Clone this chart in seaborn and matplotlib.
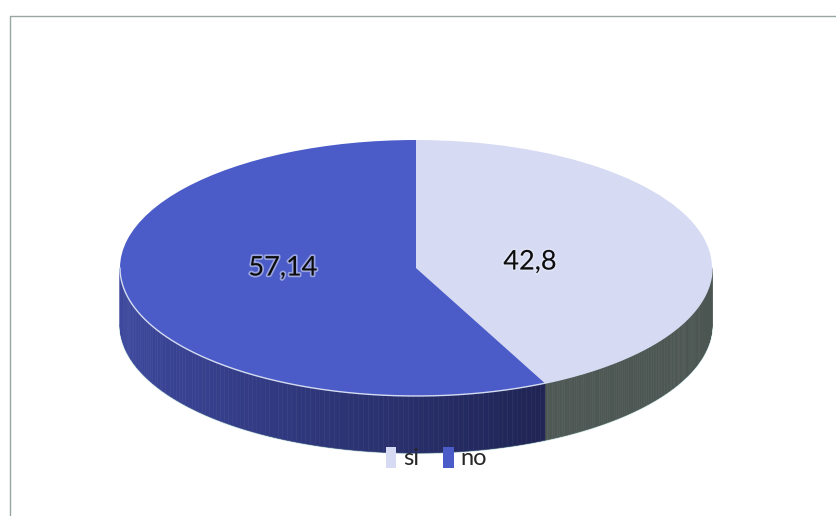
import numpy as np
import matplotlib
matplotlib.use("Agg")
import matplotlib.pyplot as plt
import matplotlib.patheffects as pe
from matplotlib.collections import PolyCollection
from matplotlib.colors import to_rgb
from matplotlib.lines import Line2D
import seaborn as sns

# data
labels = ["si", "no"]
values = [42.8, 57.14]
value_text = ["42,8", "57,14"]

# colours: top face, side (left stop, right stop)
top_colors = ["#d6daf2", "#4b5cc8"]
side_left = ["#56605c", "#3d489e"]
side_right = ["#4b5551", "#15183a"]

sns.set_theme(style="white")
plt.rcParams["font.family"] = ["Lato", "DejaVu Sans"]

W, H = 836, 516
fig = plt.figure(figsize=(W / 100, H / 100), dpi=100)
ax = fig.add_axes([0, 0, 1, 1])

# pie geometry (pixels)
cx, cy = 416, 268
R = 296
k = 128 / 296          # vertical squash of the disc
depth = 57
cyd = (H - cy) / k     # centre in squashed data units

wedges, texts, autotexts = ax.pie(
    values, colors=top_colors, startangle=90, counterclock=False,
    radius=R, center=(cx, cyd), autopct=lambda p: f"{p:.1f}",
    pctdistance=0.42, wedgeprops=dict(edgecolor="none", zorder=3),
    textprops=dict(fontsize=19.5, color="#0c0c0c"))

# label placement nudged to match the original chart
label_px = [(530, 262), (283, 268)]
for t, s, (px, py) in zip(autotexts, value_text, label_px):
    t.set_text(s)
    t.set_position((px, (H - py) / k))
    t.set_zorder(6)
    t.set_path_effects([pe.withStroke(linewidth=2.5, foreground="#e8ecf8", alpha=0.5)])

# side walls of the visible front half
for w, cl, cr in zip(wedges, side_left, side_right):
    t1, t2 = w.theta1, w.theta2
    polys, cols = [], []
    for lo, hi in [(-540, -360), (-180, 0), (180, 360)]:
        a, b = max(t1, lo), min(t2, hi)
        if b <= a:
            continue
        ts = np.radians(np.linspace(a, b, 120))
        xs = cx + R * np.cos(ts)
        ys = cyd + R * np.sin(ts)
        for i in range(len(ts) - 1):
            polys.append([(xs[i], ys[i]), (xs[i + 1], ys[i + 1]),
                          (xs[i + 1], ys[i + 1] - depth / k), (xs[i], ys[i] - depth / k)])
            f = ((xs[i] - (cx - R)) / (2 * R)) ** 0.9
            c = np.array(to_rgb(cl)) * (1 - f) + np.array(to_rgb(cr)) * f
            cols.append(c)
    ax.add_collection(PolyCollection(polys, facecolors=cols, edgecolors=cols,
                                     linewidths=0.4, zorder=2))

# light rim lines
tt = np.radians(np.linspace(-180, 0, 300))
ax.plot(cx + R * np.cos(tt), cyd + R * np.sin(tt), color="#d4dcf2", lw=1, zorder=4)
ax.plot(cx + R * np.cos(tt), cyd + R * np.sin(tt) - depth / k, color="#b9d6d6", lw=1.4, zorder=1)

ax.set_xlim(0, W)
ax.set_ylim(0, H / k)
ax.set_aspect("auto")
ax.axis("off")

ax.legend(wedges, labels, ncol=2, loc="center",
          bbox_to_anchor=(0.522, 1 - 458 / H), bbox_transform=fig.transFigure,
          frameon=False, fontsize=17, handlelength=0.45, handleheight=1.0,
          handletextpad=0.3, columnspacing=1.0)

# chart frame (top and left edges visible)
fig.add_artist(Line2D([10 / W, 1], [1 - 16 / H] * 2, transform=fig.transFigure,
                      color="#9aa6a4", lw=1))
fig.add_artist(Line2D([10 / W] * 2, [0, 1 - 16 / H], transform=fig.transFigure,
                      color="#9aa6a4", lw=1))

fig.savefig("out.png", dpi=100)
